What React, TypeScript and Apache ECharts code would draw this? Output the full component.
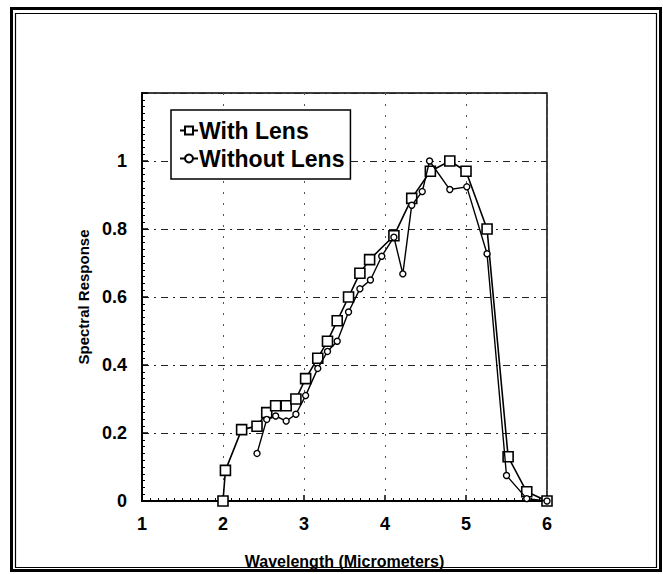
import React, { useEffect, useRef } from "react";
import * as echarts from "echarts";

const withLensX = [2.0, 2.03, 2.23, 2.42, 2.54, 2.65, 2.78, 2.9, 3.02, 3.17, 3.29, 3.41, 3.55, 3.69, 3.81, 4.11, 4.33, 4.56, 4.8, 5.0, 5.26, 5.52, 5.75, 6.0];
const withLensY = [0.0, 0.09, 0.21, 0.22, 0.26, 0.28, 0.28, 0.3, 0.36, 0.42, 0.47, 0.53, 0.6, 0.67, 0.71, 0.78, 0.89, 0.97, 1.0, 0.97, 0.8, 0.13, 0.027, 0.0];

const withoutLensX = [2.42, 2.54, 2.65, 2.78, 2.9, 3.02, 3.17, 3.29, 3.41, 3.55, 3.69, 3.82, 3.96, 4.11, 4.22, 4.33, 4.46, 4.55, 4.8, 5.01, 5.26, 5.5, 5.75, 6.0];
const withoutLensY = [0.14, 0.24, 0.25, 0.235, 0.255, 0.31, 0.39, 0.44, 0.47, 0.556, 0.624, 0.65, 0.72, 0.776, 0.668, 0.87, 0.91, 1.0, 0.916, 0.924, 0.727, 0.075, 0.007, 0.0];

const seriesNames = ["With Lens", "Without Lens"];
const xTitle = "Wavelength (Micrometers)";
const yTitle = "Spectral Response";

const W = 663;
const H = 574;

export default function App() {
  const ref = useRef<HTMLDivElement>(null);
  useEffect(() => {
    if (!ref.current) return;
    const chart = echarts.init(ref.current, null, { renderer: "svg", width: W, height: H });
    const font = "'Liberation Sans', Arial, Helvetica, sans-serif";
    const gridLine = { show: true, lineStyle: { color: "#222", width: 1, type: [7, 5, 2, 5] as any } };
    const pairs = (xs: number[], ys: number[]) => xs.map((x, i) => [x, ys[i]]);
    chart.setOption({
      animation: false,
      backgroundColor: "#fff",
      textStyle: { fontFamily: font },
      grid: { left: 142, right: W - 547, top: 93, bottom: H - 504, show: true, borderColor: "#000", borderWidth: 1.5 },
      legend: {
        orient: "vertical",
        left: 171,
        top: 110,
        backgroundColor: "#fff",
        borderColor: "#000",
        borderWidth: 1.5,
        borderRadius: 0,
        padding: [9, 6, 9, 8],
        itemGap: 5,
        itemWidth: 18,
        itemHeight: 10,
        textStyle: { fontFamily: font, fontSize: 23, fontWeight: "bold", color: "#000", padding: [0, 0, 0, -4] },
        data: seriesNames,
      },
      xAxis: {
        type: "value",
        min: 1,
        max: 6,
        interval: 1,
        name: xTitle,
        nameLocation: "middle",
        nameGap: 52,
        nameTextStyle: { fontFamily: font, fontSize: 16, fontWeight: "bold", color: "#000" },
        axisLine: { show: true, onZero: false, lineStyle: { color: "#000", width: 2 } },
        axisTick: { show: true, inside: true, length: 6, lineStyle: { color: "#000", width: 1.5 } },
        minorTick: { show: true, splitNumber: 10, length: 3, lineStyle: { color: "#000", width: 1 } },
        axisLabel: { fontFamily: font, fontSize: 18, fontWeight: "bold", color: "#000", margin: 14 },
        splitLine: { show: true, lineStyle: { color: "#555", width: 1, type: [2, 9] as any } },
      },
      yAxis: {
        type: "value",
        min: 0,
        max: 1.2,
        interval: 0.2,
        name: yTitle,
        nameLocation: "middle",
        nameGap: 49,
        nameTextStyle: { fontFamily: font, fontSize: 15, fontWeight: "bold", color: "#000" },
        axisLine: { show: true, lineStyle: { color: "#000", width: 2 } },
        axisTick: { show: true, inside: true, length: 6, lineStyle: { color: "#000", width: 1.5 } },
        minorTick: { show: true, splitNumber: 10, length: 3, lineStyle: { color: "#000", width: 1 } },
        axisLabel: { fontFamily: font, fontSize: 18, fontWeight: "bold", color: "#000", margin: 15, showMaxLabel: false },
        splitLine: gridLine,
      },
      series: [
        {
          name: seriesNames[0],
          type: "line",
          data: pairs(withLensX, withLensY),
          symbol: "rect",
          symbolSize: 10,
          showAllSymbol: true,
          lineStyle: { color: "#000", width: 1.6 },
          itemStyle: { color: "#fff", borderColor: "#000", borderWidth: 1.6 },
          z: 3,
        },
        {
          name: seriesNames[1],
          type: "line",
          data: pairs(withoutLensX, withoutLensY),
          symbol: "circle",
          symbolSize: 6,
          showAllSymbol: true,
          lineStyle: { color: "#000", width: 1.4 },
          itemStyle: { color: "#fff", borderColor: "#000", borderWidth: 1.4 },
          z: 4,
        },
      ],
      graphic: [
        { type: "rect", shape: { x: 11.5, y: 8.5, width: W - 14, height: H - 12 }, style: { fill: "none", stroke: "#000", lineWidth: 3 }, z: 100 },
        { type: "rect", shape: { x: 15.5, y: 13.5, width: W - 22, height: H - 20 }, style: { fill: "none", stroke: "#000", lineWidth: 1.2 }, z: 100 },
      ],
    });
    return () => chart.dispose();
  }, []);
  return <div ref={ref} style={{ position: "absolute", left: 0, top: 0, width: W, height: H }} />;
}
